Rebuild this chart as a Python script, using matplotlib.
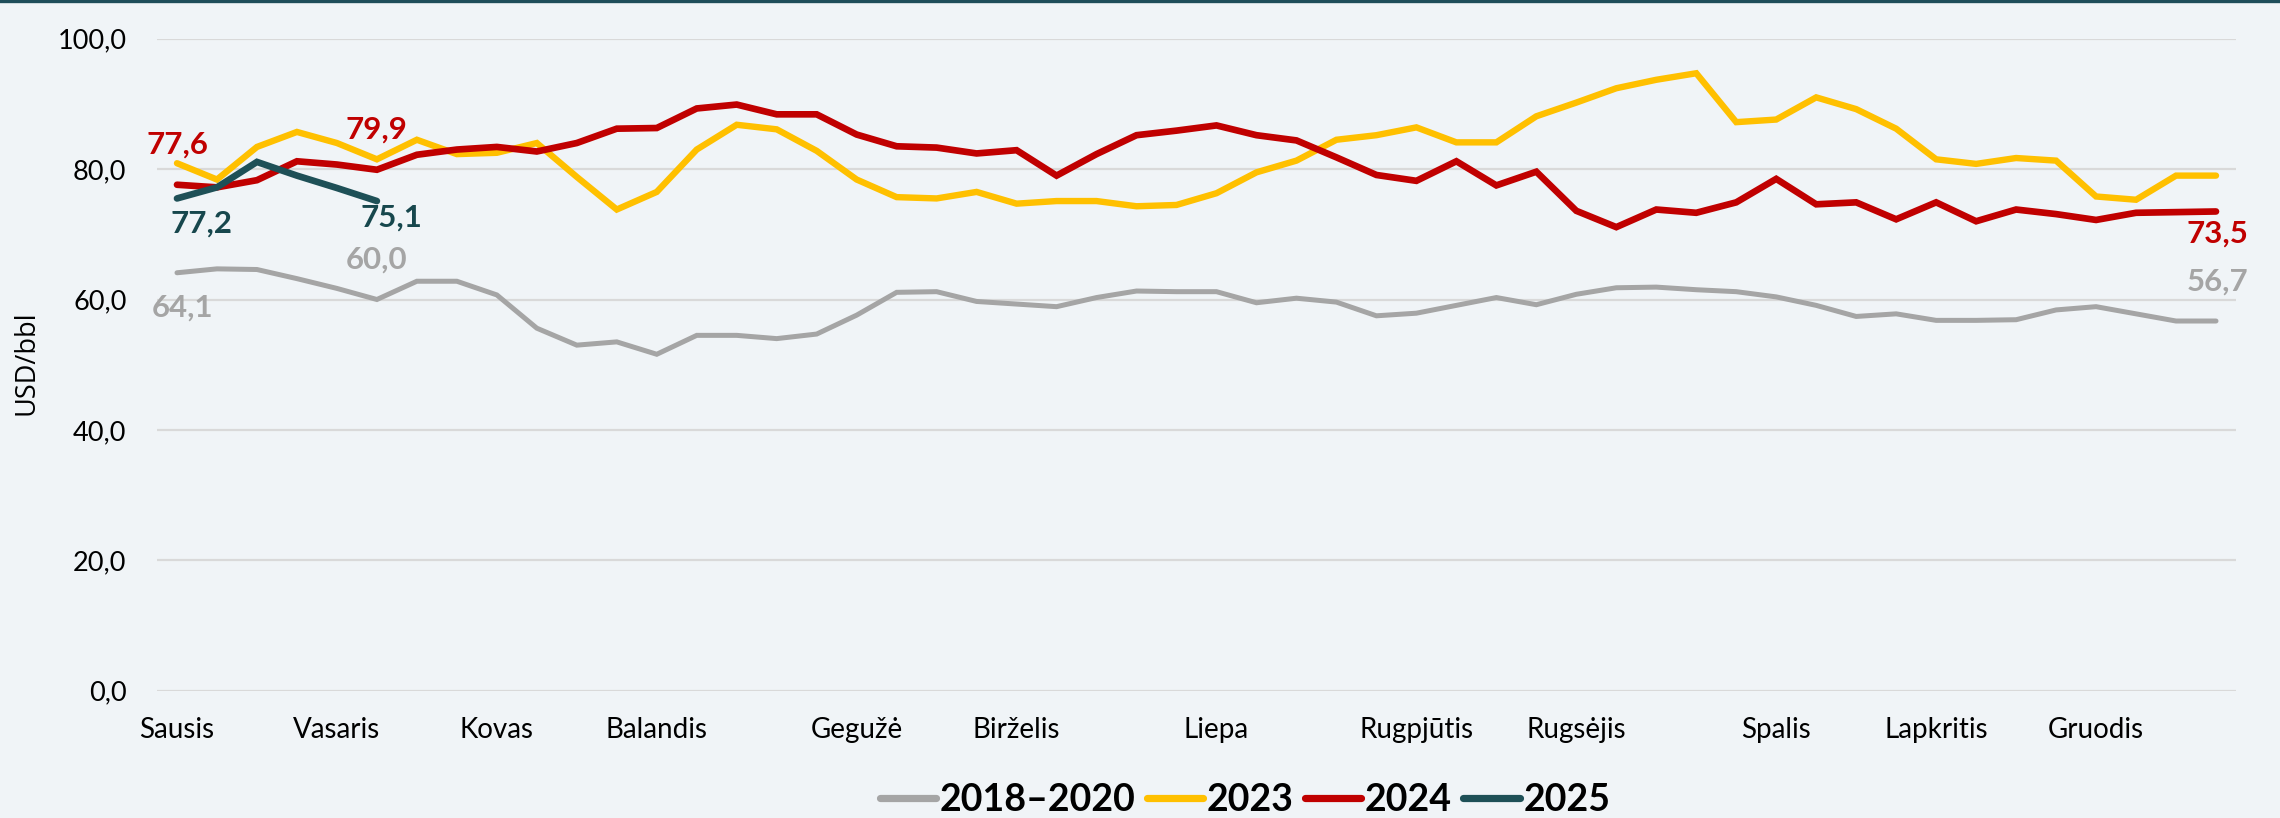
import matplotlib
matplotlib.use("Agg")
import matplotlib.pyplot as plt
from matplotlib.lines import Line2D
import numpy as np

# ---------------- data ----------------
months = ["Sausis", "Vasaris", "Kovas", "Balandis", "Gegužė", "Birželis",
          "Liepa", "Rugpjūtis", "Rugsėjis", "Spalis", "Lapkritis", "Gruodis"]
month_week_index = [0, 4, 8, 12, 17, 21, 26, 31, 35, 40, 44, 48]

s_2018_2020 = [64.1, 64.7, 64.6, 63.2, 61.7, 60.0, 62.8, 62.8, 60.7, 55.6,
               53.0, 53.5, 51.6, 54.5, 54.5, 54.0, 54.7, 57.6, 61.1, 61.2,
               59.7, 59.3, 58.9, 60.3, 61.3, 61.2, 61.2, 59.5, 60.2, 59.6,
               57.5, 57.9, 59.1, 60.3, 59.2, 60.8, 61.8, 61.9, 61.5, 61.2,
               60.4, 59.1, 57.4, 57.8, 56.8, 56.8, 56.9, 58.4, 58.9, 57.8,
               56.7, 56.7]
s_2023 = [80.9, 78.4, 83.4, 85.7, 84.0, 81.5, 84.5, 82.3, 82.5, 84.0,
          78.8, 73.8, 76.5, 83.0, 86.8, 86.1, 82.8, 78.4, 75.7, 75.5,
          76.5, 74.7, 75.1, 75.1, 74.3, 74.5, 76.3, 79.5, 81.3, 84.5,
          85.2, 86.4, 84.1, 84.1, 88.1, 90.2, 92.4, 93.7, 94.7, 87.2,
          87.6, 91.0, 89.2, 86.2, 81.5, 80.8, 81.7, 81.3, 75.8, 75.3,
          79.0, 79.0]
s_2024 = [77.6, 77.2, 78.3, 81.2, 80.7, 79.9, 82.2, 83.0, 83.4, 82.7,
          84.0, 86.2, 86.3, 89.3, 89.9, 88.4, 88.4, 85.3, 83.5, 83.3,
          82.4, 82.9, 79.0, 82.3, 85.2, 85.9, 86.7, 85.2, 84.4, 81.8,
          79.1, 78.2, 81.2, 77.5, 79.6, 73.6, 71.1, 73.8, 73.3, 74.9,
          78.5, 74.6, 74.9, 72.3, 74.9, 72.0, 73.8, 73.1, 72.2, 73.3,
          73.4, 73.5]
s_2025 = [75.5, 77.2, 81.1, 79.0, 77.1, 75.1]

series_names = ["2018–2020", "2023", "2024", "2025"]

# ---------------- style ----------------
BG = "#F0F4F7"
C_GRAY = "#A5A5A5"
C_YEL = "#FFC000"
C_RED = "#C00000"
C_TEAL = "#1E5057"
C_TEAL_TXT = "#17474D"

FONT = "Lato"

W, H = 2280, 818
fig = plt.figure(figsize=(W / 100, H / 100), dpi=100)
fig.patch.set_facecolor(BG)

x0, x1 = 157, 2236
y0, y1 = 690.7, 38.7
ax = fig.add_axes([x0 / W, 1 - y0 / H, (x1 - x0) / W, (y0 - y1) / H])
ax.set_facecolor(BG)

def fmt(v):
    return f"{v:.1f}".replace(".", ",")

series = [s_2018_2020, s_2023, s_2024, s_2025]
colors = [C_GRAY, C_YEL, C_RED, C_TEAL]
widths = [3.6, 4.6, 4.8, 4.8]
for vals, c, lw, name in zip(series, colors, widths, series_names):
    xs = np.arange(len(vals))
    ax.plot(xs, vals, color=c, lw=lw, solid_capstyle="round",
            solid_joinstyle="miter", label=name, clip_on=False)

ax.set_xlim(-0.5, 51.5)
ax.set_ylim(0, 100)
ax.set_yticks(np.arange(0, 101, 20))
ax.set_yticklabels([fmt(v) for v in np.arange(0, 101, 20)],
                   fontsize=19.5, family=FONT, color="#000000")
ax.set_xticks(month_week_index)
ax.set_xticklabels(months, fontsize=20, family=FONT, color="#000000")
ax.tick_params(axis="y", length=0, pad=22)
ax.tick_params(axis="x", length=0, pad=19)
ax.grid(axis="y", color="#D9D9D9", lw=1.6)
ax.set_axisbelow(True)
for sp in ax.spines.values():
    sp.set_visible(False)

# y axis title
fig.text(27 / W, 1 - 363 / H, "USD/bbl", rotation=90, ha="center", va="center",
         fontsize=19.5, family="Open Sans", color="#000000")

# ---------------- data labels ----------------
def label(vals, idx, dx, dy, color):
    ax.annotate(fmt(vals[idx]), xy=(idx, vals[idx]), xytext=(dx, dy),
                textcoords="offset pixels", ha="center", va="center",
                fontsize=22.5, fontweight="bold", family=FONT, color=color,
                annotation_clip=False)

label(s_2024, 0, 0, 40, C_RED)
label(s_2024, 5, 0, 40, C_RED)
label(s_2025, 1, -15, -36, C_TEAL_TXT)
label(s_2025, 5, 15, -17, C_TEAL_TXT)
label(s_2018_2020, 0, 6, -35, C_GRAY)
label(s_2018_2020, 5, 0, 40, C_GRAY)
label(s_2024, 51, 1, -22, C_RED)
label(s_2018_2020, 51, 2, 39, C_GRAY)

# ---------------- legend ----------------
handles = [Line2D([0], [0], color=c, lw=5.2, solid_capstyle="round")
           for c in colors]
fig.legend(handles, series_names, loc="center",
           bbox_to_anchor=(1245 / W, 1 - 800 / H), ncol=4, frameon=False,
           prop={"family": FONT, "weight": "bold", "size": 27},
           handlelength=1.5, handletextpad=0.1, columnspacing=0.3,
           borderaxespad=0, borderpad=0)

# top border
fig.add_artist(Line2D([0, 1], [1 - 1.2 / H, 1 - 1.2 / H], transform=fig.transFigure,
                      color="#1F4E5A", lw=2.4))

fig.savefig("out.png", dpi=100, facecolor=BG)
